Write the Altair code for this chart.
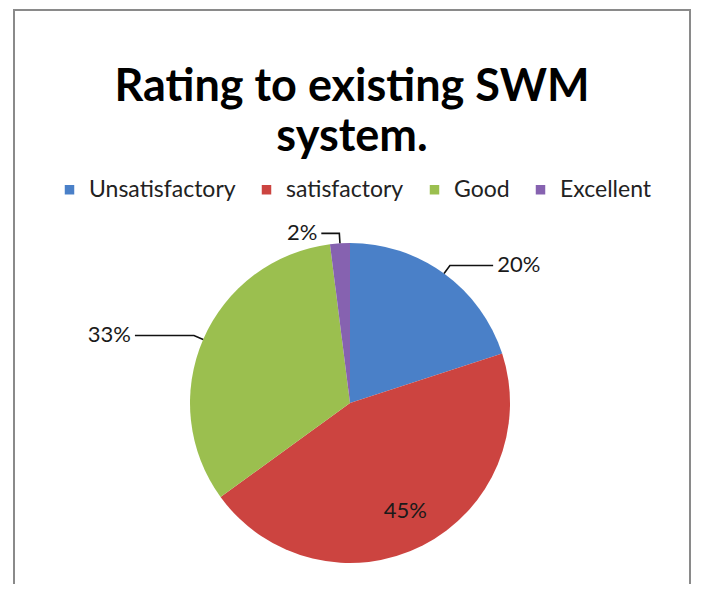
import altair as alt
import pandas as pd

# ---- data ----
categories = ["Unsatisfactory", "satisfactory", "Good", "Excellent"]
values = [20, 45, 33, 2]
colors = ["#4a80c8", "#cc4440", "#9bbf4f", "#8662b0"]

title_lines = ["Rating to existing SWM", "system."]

# ---- layout (pixels, view coordinates) ----
W, H = 676, 574
CX, CY = 336, 393
R = 160
FONT = "Lato"

df = pd.DataFrame({"category": categories, "value": values, "order": list(range(len(categories)))})

xs = alt.Scale(domain=[0, W], nice=False, zero=False)
ys = alt.Scale(domain=[0, H], nice=False, zero=False, reverse=True)

color = alt.Color(
    "category:N",
    scale=alt.Scale(domain=categories, range=colors),
    sort=categories,
    legend=alt.Legend(
        title=None,
        orient="none",
        legendX=44,
        legendY=168,
        direction="horizontal",
        symbolType="square",
        symbolSize=90,
        symbolStrokeWidth=0,
        labelFont=FONT,
        labelFontSize=23,
        labelColor="#222222",
        labelOffset=8,
        columnPadding=19,
        labelLimit=400,
    ),
)

pie = alt.Chart(df).mark_arc(outerRadius=R).encode(
    theta=alt.Theta("value:Q", stack=True),
    color=color,
    order=alt.Order("order:Q"),
    x=alt.value(CX),
    y=alt.value(CY),
)

base = (
    alt.Chart(df)
    .transform_joinaggregate(total="sum(value)")
    .transform_window(cum="sum(value)", sort=[alt.SortField("order")], frame=[None, 0])
    .transform_calculate(
        mid="(datum.cum - datum.value / 2) / datum.total * 2 * PI",
        label="datum.value + '%'",
    )
)

LABEL_SIZE = 22

# inside label for the big slice
inside = base.transform_filter("datum.value >= 40").transform_calculate(
    lx=f"{CX} + {R * 0.76} * sin(datum.mid)",
    ly=f"{CY} - {R * 0.76} * cos(datum.mid)",
).mark_text(font=FONT, fontSize=LABEL_SIZE, color="#1a1a1a", align="center", baseline="middle").encode(
    x=alt.X("lx:Q", scale=xs, axis=None),
    y=alt.Y("ly:Q", scale=ys, axis=None),
    text="label:N",
)

outside = base.transform_filter("datum.value < 40").transform_calculate(
    side="sin(datum.mid) < 0 ? -1 : 1",
    leg="15 + 48 * abs(sin(datum.mid))",
    ex0=f"{CX} + {R} * sin(datum.mid)",
    ey0=f"{CY} - {R} * cos(datum.mid)",
    ex1=f"{CX} + {R + 10} * sin(datum.mid)",
    ey1=f"{CY} - {R + 10} * cos(datum.mid)",
)
outside = outside.transform_calculate(
    ex2="datum.ex1 + datum.side * datum.leg",
    ey2="datum.ey1",
)

leaders = outside.transform_calculate(pts="[0, 1, 2]").transform_flatten(["pts"]).transform_calculate(
    px="datum.pts == 0 ? datum.ex0 : (datum.pts == 1 ? datum.ex1 : datum.ex2)",
    py="datum.pts == 0 ? datum.ey0 : (datum.pts == 1 ? datum.ey1 : datum.ey2)",
).mark_line(color="#111111", strokeWidth=1.6).encode(
    x=alt.X("px:Q", scale=xs, axis=None),
    y=alt.Y("py:Q", scale=ys, axis=None),
    detail="category:N",
    order="pts:Q",
)

right_labels = outside.transform_filter("datum.side > 0").transform_calculate(
    tx="datum.ex2 + 4"
).mark_text(font=FONT, fontSize=LABEL_SIZE, color="#1a1a1a", align="left", baseline="middle").encode(
    x=alt.X("tx:Q", scale=xs, axis=None),
    y=alt.Y("ey2:Q", scale=ys, axis=None),
    text="label:N",
)

left_labels = outside.transform_filter("datum.side < 0").transform_calculate(
    tx="datum.ex2 - 4"
).mark_text(font=FONT, fontSize=LABEL_SIZE, color="#1a1a1a", align="right", baseline="middle").encode(
    x=alt.X("tx:Q", scale=xs, axis=None),
    y=alt.Y("ey2:Q", scale=ys, axis=None),
    text="label:N",
)

frame = alt.Chart(pd.DataFrame({"f": [0]})).mark_rect(
    fill=None, stroke="#8a8a8a", strokeWidth=2
).encode(
    x=alt.value(0), x2=alt.value(W), y=alt.value(0), y2=alt.value(H + 40)
)

chart = (
    alt.layer(frame, pie, leaders, inside, right_labels, left_labels)
    .properties(
        width=W,
        height=H,
        autosize=alt.AutoSizeParams(type="none"),
        padding={"left": 6, "top": 2, "right": 7, "bottom": 0},
        title=alt.TitleParams(
            text=title_lines,
            font=FONT,
            fontSize=45,
            fontWeight="bold",
            color="#000000",
            anchor="middle",
            baseline="alphabetic",
            lineHeight=50,
            offset=-187,
        ),
    )
    .configure_view(stroke=None)
    .resolve_scale(color="independent")
)

chart.save("out.html", embed_options={"renderer": "svg", "actions": False})
